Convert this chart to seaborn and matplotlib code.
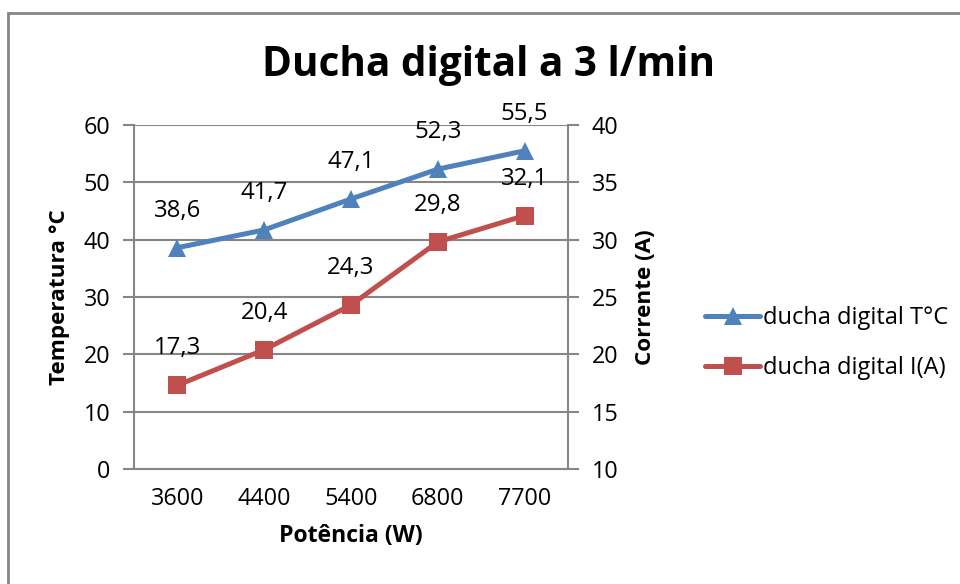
import matplotlib
matplotlib.use("Agg")
import matplotlib.pyplot as plt
from matplotlib.patches import Rectangle
import seaborn as sns
import pandas as pd

# Power levels of the digital shower and the measured readings
potencia = ["3600", "4400", "5400", "6800", "7700"]
temperatura = [38.6, 41.7, 47.1, 52.3, 55.5]
corrente = [17.3, 20.4, 24.3, 29.8, 32.1]

serie_t = "ducha digital T°C"
serie_i = "ducha digital I(A)"
temp_ticks = [0, 10, 20, 30, 40, 50, 60]
corr_ticks = [10, 15, 20, 25, 30, 35, 40]

AZUL = "#4F81BD"
VERMELHO = "#C0504D"
CINZA = "#868686"

sns.set_theme(style="white")
plt.rcParams["font.family"] = ["Open Sans", "DejaVu Sans"]

df = pd.DataFrame({"Potência": potencia, "T": temperatura, "I": corrente})

fig = plt.figure(figsize=(9.6, 5.84), dpi=100)
ax = fig.add_axes([134 / 960, 1 - 469 / 584, 434 / 960, 344 / 584])
ax2 = ax.twinx()

sns.lineplot(data=df, x="Potência", y="T", ax=ax, color=AZUL, lw=3.6,
             marker="^", markersize=13, markeredgewidth=0, sort=False,
             label=serie_t, legend=False)
sns.lineplot(data=df, x="Potência", y="I", ax=ax2, color=VERMELHO, lw=3.6,
             marker="s", markersize=13, markeredgewidth=0, sort=False,
             label=serie_i, legend=False)

ax.set_xlim(-0.5, len(potencia) - 0.5)
ax.set_ylim(temp_ticks[0], temp_ticks[-1])
ax2.set_ylim(corr_ticks[0], corr_ticks[-1])
ax.set_yticks(temp_ticks)
ax2.set_yticks(corr_ticks)
ax.set_yticklabels([str(v) for v in temp_ticks])
ax2.set_yticklabels([str(v) for v in corr_ticks])

TICK_FS = 16.8

# Category ticks sit between the labels
ax.set_xticks(range(len(potencia)))
ax.set_xticklabels(potencia)
ax.set_xticks([i - 0.5 for i in range(len(potencia) + 1)], minor=True)
ax.tick_params(axis="x", which="major", length=0, pad=13, labelsize=TICK_FS, colors="black")
ax.tick_params(axis="x", which="minor", length=7, width=1.5, color=CINZA, direction="out")
ax.tick_params(axis="y", length=8, width=1.5, color=CINZA, labelsize=TICK_FS, pad=9,
               left=True, labelcolor="black")
ax2.tick_params(axis="y", length=8, width=1.5, color=CINZA, labelsize=TICK_FS, pad=9,
                right=True, labelcolor="black")

ax.yaxis.grid(True, color=CINZA, lw=1.5)
ax.set_axisbelow(True)
for a in (ax, ax2):
    for s in a.spines.values():
        s.set_visible(False)
    a.set_facecolor("none")
ax.spines["left"].set_visible(True)
ax.spines["left"].set_color(CINZA)
ax.spines["left"].set_linewidth(1.5)
ax.spines["bottom"].set_visible(True)
ax.spines["bottom"].set_color(CINZA)
ax.spines["bottom"].set_linewidth(1.5)
ax2.spines["right"].set_visible(True)
ax2.spines["right"].set_color(CINZA)
ax2.spines["right"].set_linewidth(1.5)

# Value labels above each point
for i, v in enumerate(temperatura):
    ax.annotate(f"{v:.1f}".replace(".", ","), (i, v), xytext=(0, 26.5),
                textcoords="offset points", ha="center", va="center", fontsize=17.3,
                color="black")
for i, v in enumerate(corrente):
    ax2.annotate(f"{v:.1f}".replace(".", ","), (i, v), xytext=(0, 26.5),
                 textcoords="offset points", ha="center", va="center", fontsize=17.3,
                 color="black")

ax.set_xlabel("Potência (W)", fontsize=16.6, fontweight="bold", labelpad=9, color="black")
ax.set_ylabel("Temperatura °C", fontsize=16.2, fontweight="bold", labelpad=10, color="black")
ax2.set_ylabel("Corrente (A)", fontsize=16.2, fontweight="bold", labelpad=12, color="black")

fig.text(489 / 960, 1 - 66 / 584, "Ducha digital a 3 l/min", ha="center", va="center",
         fontsize=29.2, fontweight="bold", color="black")

h1, l1 = ax.get_legend_handles_labels()
h2, l2 = ax2.get_legend_handles_labels()
fig.legend(h1 + h2, l1 + l2, loc="center left", bbox_to_anchor=(696 / 960, 1 - 343 / 584),
           frameon=False, fontsize=17, handlelength=2.33, handletextpad=0.1,
           labelspacing=1.1, borderaxespad=0, labelcolor="black")

# Outer chart frame
fig.patches.append(Rectangle((8 / 960, -0.1), 1.2, 1 - 13 / 584 + 0.1,
                             transform=fig.transFigure, fill=False,
                             edgecolor=CINZA, lw=2, zorder=-1))

fig.savefig("out.png", dpi=100)
